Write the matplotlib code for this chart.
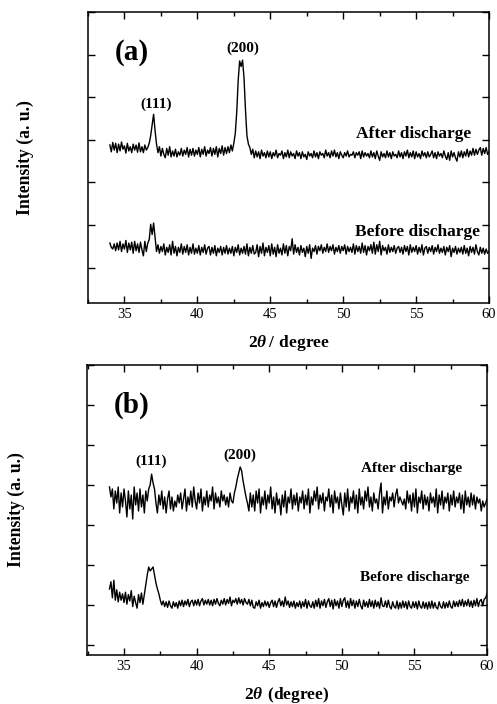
#
# XRD patterns before / after discharge, panels (a) and (b)
#

import matplotlib
matplotlib.use("Agg")
import matplotlib.pyplot as plt
import numpy as np
from matplotlib.ticker import MultipleLocator

plt.rcParams['font.family'] = ['Liberation Serif', 'DejaVu Serif']
plt.rcParams['mathtext.fontset'] = 'custom'
plt.rcParams['mathtext.bf'] = 'Liberation Serif:bold:italic'
plt.rcParams['mathtext.rm'] = 'Liberation Serif:bold'

### Données (2theta de 34 à 60, pas 0.1)

two_theta = np.linspace(34, 60, 261)

a_after = [
    2.88, 2.72, 2.94, 2.76, 2.92, 2.70, 2.90, 2.74, 2.95, 2.78,
    2.86, 2.69, 2.92, 2.74, 2.84, 2.70, 2.90, 2.76, 2.88, 2.71,
    2.93, 2.72, 2.84, 2.70, 2.88, 2.76, 2.82, 2.92, 3.10, 3.35,
    3.60, 3.22, 2.90, 2.70, 2.84, 2.62, 2.80, 2.66, 2.58, 2.80,
    2.64, 2.84, 2.60, 2.74, 2.62, 2.78, 2.60, 2.72, 2.64, 2.80,
    2.62, 2.76, 2.66, 2.82, 2.60, 2.78, 2.64, 2.80, 2.62, 2.76,
    2.66, 2.82, 2.60, 2.78, 2.66, 2.84, 2.62, 2.76, 2.68, 2.82,
    2.62, 2.80, 2.66, 2.84, 2.60, 2.80, 2.68, 2.86, 2.64, 2.82,
    2.68, 2.84, 2.70, 2.88, 2.74, 2.92, 3.15, 3.65, 4.40, 4.85,
    4.72, 4.87, 4.45, 3.70, 3.10, 2.90, 2.82, 2.66, 2.78, 2.58,
    2.74, 2.60, 2.72, 2.56, 2.76, 2.62, 2.70, 2.58, 2.74, 2.60,
    2.72, 2.56, 2.70, 2.62, 2.76, 2.58, 2.68, 2.64, 2.74, 2.56,
    2.70, 2.60, 2.76, 2.58, 2.72, 2.62, 2.68, 2.56, 2.74, 2.62,
    2.70, 2.56, 2.72, 2.60, 2.66, 2.54, 2.72, 2.62, 2.68, 2.58,
    2.74, 2.60, 2.70, 2.56, 2.72, 2.64, 2.68, 2.58, 2.76, 2.62,
    2.70, 2.58, 2.74, 2.62, 2.76, 2.60, 2.70, 2.56, 2.72, 2.64,
    2.58, 2.70, 2.62, 2.74, 2.60, 2.66, 2.64, 2.72, 2.58, 2.70,
    2.64, 2.72, 2.56, 2.74, 2.60, 2.70, 2.62, 2.68, 2.58, 2.74,
    2.60, 2.70, 2.56, 2.74, 2.62, 2.52, 2.72, 2.60, 2.68, 2.58,
    2.74, 2.60, 2.70, 2.56, 2.72, 2.62, 2.66, 2.58, 2.74, 2.60,
    2.70, 2.56, 2.72, 2.62, 2.76, 2.58, 2.70, 2.60, 2.74, 2.56,
    2.72, 2.60, 2.68, 2.56, 2.74, 2.62, 2.70, 2.58, 2.72, 2.60,
    2.66, 2.74, 2.58, 2.70, 2.56, 2.72, 2.62, 2.68, 2.58, 2.74,
    2.62, 2.54, 2.70, 2.52, 2.74, 2.60, 2.70, 2.58, 2.50, 2.72,
    2.60, 2.74, 2.58, 2.72, 2.62, 2.78, 2.60, 2.74, 2.64, 2.80,
    2.64, 2.78, 2.66, 2.76, 2.82, 2.64, 2.80, 2.68, 2.82, 2.66,
    2.72]

a_before = [
    0.58, 0.48, 0.44, 0.56, 0.40, 0.58, 0.42, 0.62, 0.38, 0.56,
    0.44, 0.64, 0.36, 0.58, 0.42, 0.60, 0.34, 0.62, 0.40, 0.56,
    0.36, 0.60, 0.42, 0.28, 0.62, 0.38, 0.58, 0.66, 1.02, 0.78,
    1.05, 0.72, 0.38, 0.54, 0.34, 0.50, 0.38, 0.56, 0.30, 0.48,
    0.36, 0.54, 0.30, 0.62, 0.34, 0.50, 0.28, 0.48, 0.36, 0.56,
    0.32, 0.50, 0.36, 0.54, 0.30, 0.48, 0.34, 0.56, 0.32, 0.46,
    0.34, 0.52, 0.30, 0.48, 0.36, 0.54, 0.32, 0.46, 0.50, 0.30,
    0.48, 0.34, 0.52, 0.28, 0.46, 0.36, 0.50, 0.30, 0.48, 0.34,
    0.52, 0.32, 0.46, 0.34, 0.50, 0.28, 0.48, 0.36, 0.54, 0.30,
    0.46, 0.34, 0.50, 0.32, 0.56, 0.28, 0.48, 0.34, 0.52, 0.32,
    0.36, 0.54, 0.26, 0.50, 0.34, 0.58, 0.28, 0.48, 0.36, 0.52,
    0.28, 0.56, 0.32, 0.48, 0.26, 0.54, 0.34, 0.46, 0.30, 0.56,
    0.34, 0.52, 0.28, 0.50, 0.40, 0.68, 0.32, 0.54, 0.36, 0.48,
    0.30, 0.52, 0.36, 0.46, 0.26, 0.50, 0.34, 0.54, 0.22, 0.46,
    0.38, 0.52, 0.32, 0.50, 0.40, 0.54, 0.34, 0.48, 0.38, 0.56,
    0.36, 0.50, 0.40, 0.54, 0.32, 0.48, 0.38, 0.52, 0.34, 0.50,
    0.40, 0.54, 0.32, 0.50, 0.38, 0.48, 0.36, 0.56, 0.32, 0.52,
    0.38, 0.50, 0.34, 0.58, 0.36, 0.52, 0.30, 0.50, 0.40, 0.54,
    0.34, 0.60, 0.32, 0.54, 0.38, 0.62, 0.30, 0.52, 0.40, 0.48,
    0.32, 0.54, 0.36, 0.48, 0.38, 0.52, 0.34, 0.46, 0.50, 0.36,
    0.48, 0.32, 0.52, 0.38, 0.50, 0.30, 0.54, 0.36, 0.48, 0.38,
    0.52, 0.32, 0.48, 0.36, 0.54, 0.30, 0.46, 0.50, 0.34, 0.48,
    0.38, 0.52, 0.32, 0.48, 0.38, 0.54, 0.34, 0.46, 0.36, 0.50,
    0.30, 0.48, 0.38, 0.52, 0.26, 0.46, 0.36, 0.50, 0.32, 0.46,
    0.36, 0.48, 0.32, 0.52, 0.34, 0.46, 0.28, 0.50, 0.36, 0.48,
    0.32, 0.54, 0.38, 0.30, 0.48, 0.34, 0.46, 0.32, 0.44, 0.34,
    0.38]

b_after = [
    3.95, 3.70, 3.90, 3.40, 3.85, 3.55, 3.95, 3.30, 3.80, 3.45,
    3.90, 3.60, 3.20, 3.85, 3.40, 3.75, 3.15, 3.95, 3.50, 3.80,
    3.35, 3.90, 3.45, 3.75, 3.30, 3.85, 3.60, 3.90, 4.00, 4.27,
    4.05, 3.90, 3.55, 3.30, 3.75, 3.50, 3.85, 3.40, 3.70, 3.30,
    3.65, 3.85, 3.40, 3.70, 3.35, 3.60, 3.45, 3.75, 3.55, 3.80,
    3.40, 3.65, 3.90, 3.35, 3.70, 3.50, 3.85, 3.45, 3.95, 3.60,
    3.40, 3.80, 3.55, 3.90, 3.35, 3.70, 3.50, 3.85, 3.45, 3.75,
    3.60, 3.95, 3.40, 3.80, 3.55, 3.70, 3.45, 3.85, 3.60, 3.75,
    3.50, 3.70, 3.45, 3.80, 3.60, 3.55, 3.80, 3.95, 4.15, 4.30,
    4.45, 4.35, 4.10, 3.90, 3.70, 3.55, 3.35, 3.80, 3.45, 3.75,
    3.35, 3.85, 3.55, 3.90, 3.30, 3.70, 3.50, 3.85, 3.40, 3.75,
    3.55, 3.95, 3.40, 3.70, 3.30, 3.80, 3.50, 3.65, 3.25, 3.75,
    3.45, 3.85, 3.30, 3.70, 3.55, 3.90, 3.40, 3.75, 3.50, 3.80,
    3.35, 3.70, 3.55, 3.85, 3.40, 3.75, 3.50, 3.90, 3.30, 3.70,
    3.50, 3.85, 3.60, 3.95, 3.40, 3.75, 3.55, 3.80, 3.35, 3.70,
    3.60, 3.90, 3.45, 3.75, 3.30, 3.85, 3.55, 3.70, 3.40, 3.80,
    3.50, 3.25, 3.80, 3.45, 3.90, 3.35, 3.70, 3.55, 3.85, 3.40,
    3.75, 3.30, 3.90, 3.50, 3.70, 3.40, 3.85, 3.60, 3.95, 3.45,
    3.70, 3.35, 3.80, 3.55, 3.65, 3.40, 3.80, 4.05, 3.30, 3.70,
    3.50, 3.85, 3.40, 3.70, 3.60, 3.80, 3.45, 3.75, 3.90, 3.55,
    3.70, 3.60, 3.50, 3.65, 3.40, 3.85, 3.55, 3.75, 3.35, 3.80,
    3.45, 3.90, 3.30, 3.70, 3.55, 3.85, 3.40, 3.75, 3.50, 3.70,
    3.35, 3.80, 3.55, 3.70, 3.45, 3.90, 3.30, 3.75, 3.50, 3.85,
    3.40, 3.70, 3.55, 3.80, 3.35, 3.75, 3.50, 3.85, 3.45, 3.70,
    3.55, 3.80, 3.40, 3.75, 3.30, 3.85, 3.50, 3.70, 3.45, 3.80,
    3.50, 3.75, 3.40, 3.70, 3.55, 3.65, 3.35, 3.60, 3.45, 3.55,
    3.65]

b_before = [
    1.40, 1.58, 1.18, 1.62, 1.12, 1.38, 1.08, 1.32, 1.12, 1.28,
    1.06, 1.32, 1.02, 1.26, 1.10, 1.36, 0.96, 1.22, 1.06, 0.92,
    1.26, 1.06, 1.30, 1.02, 1.26, 1.50, 1.75, 1.95, 1.85, 1.90,
    1.95, 1.75, 1.55, 1.40, 1.28, 1.12, 1.00, 1.10, 0.96, 1.08,
    0.94, 1.10, 0.98, 0.92, 1.08, 0.96, 1.06, 0.92, 1.10, 0.98,
    1.12, 0.96, 1.10, 1.00, 1.14, 0.96, 1.08, 1.12, 0.98, 1.12,
    1.00, 1.14, 0.98, 1.10, 1.16, 1.00, 1.12, 1.02, 1.14, 1.00,
    1.12, 0.98, 1.14, 1.02, 1.16, 1.04, 0.98, 1.12, 1.02, 1.16,
    1.00, 1.14, 1.04, 1.20, 0.98, 1.12, 1.06, 1.16, 1.02, 1.18,
    1.04, 1.14, 1.00, 1.16, 1.06, 1.02, 1.14, 0.98, 1.12, 0.94,
    0.92, 1.08, 0.98, 1.12, 0.92, 1.06, 0.96, 1.10, 0.98, 1.08,
    0.94, 1.06, 1.12, 0.96, 1.10, 0.94, 1.08, 1.16, 0.98, 1.10,
    0.96, 1.20, 1.00, 1.10, 0.94, 1.08, 0.96, 1.10, 0.92, 1.06,
    0.96, 1.10, 0.92, 1.08, 0.96, 1.14, 0.92, 1.10, 0.98, 0.94,
    1.08, 0.92, 1.12, 0.96, 1.16, 0.92, 1.10, 0.98, 1.14, 0.94,
    1.08, 1.16, 0.96, 1.12, 0.90, 1.14, 0.98, 1.10, 0.92, 1.16,
    0.96, 1.12, 1.18, 0.94, 1.10, 0.92, 1.16, 0.98, 1.12, 0.92,
    1.10, 0.96, 1.14, 0.98, 0.90, 1.12, 0.96, 1.08, 0.94, 1.14,
    0.96, 1.10, 0.92, 1.12, 0.96, 1.08, 0.92, 1.18, 0.98, 0.96,
    1.10, 0.94, 1.12, 0.96, 0.90, 1.08, 0.96, 0.92, 1.10, 0.90,
    1.06, 0.92, 1.10, 0.94, 1.08, 0.90, 1.10, 0.96, 0.92, 1.08,
    0.94, 1.08, 0.90, 1.10, 0.96, 0.92, 1.08, 0.92, 1.06, 0.90,
    1.08, 0.92, 1.10, 0.92, 1.06, 0.94, 0.90, 1.08, 0.96, 0.92,
    1.08, 0.92, 1.06, 0.94, 1.10, 0.96, 0.92, 1.10, 0.96, 1.08,
    0.96, 1.12, 0.98, 1.14, 0.96, 1.10, 0.98, 1.14, 0.96, 1.10,
    0.94, 1.12, 0.98, 1.16, 0.96, 1.10, 1.14, 0.98, 1.14, 1.18,
    1.28]

### Figure

fig = plt.figure(figsize=(4.97, 7.04), dpi=100)

def panneau(rect, ylim, nticks, xlim_left, pad):
    ax = fig.add_axes(rect)
    ax.set_xlim(xlim_left, 60)
    ax.set_ylim(*ylim)
    ax.xaxis.set_major_locator(MultipleLocator(5))
    ax.xaxis.set_minor_locator(MultipleLocator(2.5))
    ax.set_yticks(range(nticks))
    ax.set_yticklabels([])
    ax.tick_params(which='both', direction='in', top=True, right=True,
                   labelsize=10.5, width=1.0)
    ax.tick_params(which='major', length=5)
    ax.tick_params(which='minor', length=3)
    for s in ax.spines.values():
        s.set_linewidth(1.1)
    ax.set_ylabel('Intensity (a. u.)', fontsize=12.7, fontweight='bold', labelpad=pad)
    return ax

# (a)
ax1 = panneau([0.177, 0.570, 0.807, 0.413], (-0.82, 6.0), 7, 32.5, 35)
ax1.plot(two_theta, a_after, color='black', lw=1.0)
ax1.plot(two_theta, a_before, color='black', lw=1.0)
ax1.text(35.5, 5.06, '(a)', fontsize=21, fontweight='bold', ha='center', va='center')
ax1.text(37.2, 3.84, '(111)', fontsize=11, fontweight='bold', ha='center', va='center')
ax1.text(43.1, 5.15, '(200)', fontsize=11, fontweight='bold', ha='center', va='center')
ax1.text(58.8, 3.14, 'After discharge', fontsize=12.5, fontweight='bold', ha='right', va='center')
ax1.text(59.4, 0.84, 'Before discharge', fontsize=12.5, fontweight='bold', ha='right', va='center')
ax1.set_xlabel(r'$\mathrm{2}\mathbf{\theta}$$\mathrm{\,/\ degree}$', fontsize=12.5, labelpad=9)

# (b)
ax2 = panneau([0.175, 0.0696, 0.805, 0.412], (-0.25, 7.0), 8, 32.45, 41)
ax2.plot(two_theta, b_after, color='black', lw=1.0)
ax2.plot(two_theta, b_before, color='black', lw=1.0)
ax2.text(35.5, 6.0, '(b)', fontsize=21, fontweight='bold', ha='center', va='center')
ax2.text(36.9, 4.6, '(111)', fontsize=11, fontweight='bold', ha='center', va='center')
ax2.text(43.0, 4.75, '(200)', fontsize=11, fontweight='bold', ha='center', va='center')
ax2.text(58.3, 4.4, 'After discharge', fontsize=11, fontweight='bold', ha='right', va='center')
ax2.text(58.8, 1.68, 'Before discharge', fontsize=11, fontweight='bold', ha='right', va='center')
ax2.set_xlabel(r'$\mathrm{2}\mathbf{\theta}$$\mathrm{\ (degree)}$', fontsize=12.5, labelpad=9)

fig.savefig('out.png', dpi=100)
